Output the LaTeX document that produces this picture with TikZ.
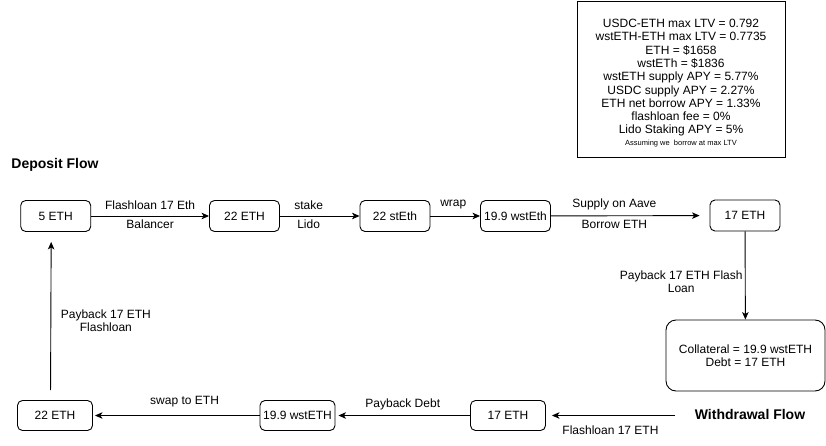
\documentclass[tikz,border=0pt]{standalone}
\usepackage{fontspec}
\setmainfont{Liberation Sans}
\usetikzlibrary{arrows.meta,positioning}
\tikzset{
  flowbox/.style={draw, rounded corners=5pt, minimum width=70pt, minimum height=31pt, inner sep=1pt, line width=0.9pt},
  widebox/.style={flowbox, minimum width=75pt, minimum height=30pt},
  edgelbl/.style={inner sep=0pt, align=center},
  flowtitle/.style={font=\fontsize{14}{16}\selectfont\bfseries},
  flowarrow/.style={-{Stealth[length=7.5pt,width=6.5pt,inset=2pt]}, line width=0.9pt}
}

\begin{document}
\begin{tikzpicture}[x=1pt,y=-1pt,font=\fontsize{12}{13.3}\selectfont]
        \useasboundingbox (0,0) rectangle (826,446);
        % parameters box
        \node[draw, line width=0.9pt, minimum width=208pt, minimum height=156pt] (params) at (681,79) {};
        \node[align=center, inner sep=0pt] (paramtext) at (681,83)
            {USDC-ETH max LTV = 0.792\\
             wstETH-ETH max LTV = 0.7735\\
             ETH = \$1658\\
             wstETh = \$1836\\
             wstETH supply APY = 5.77\%\\
             USDC supply APY = 2.27\%\\
             ETH net borrow APY = 1.33\%\\
             flashloan fee = 0\%\\
             Lido Staking APY = 5\%\\[-2pt]
             {\fontsize{7.5}{9}\selectfont Assuming we\ \ borrow at max LTV}};
        % deposit flow
        \node[flowtitle] (depositlbl) at (55,165) {Deposit Flow};
        \node[flowbox] (eth5) at (55.7,216) {5 ETH};
        \node[flowbox] (eth22) at (244.5,216) {22 ETH};
        \node[flowbox] (steth) at (395,216) {22 stEth};
        \node[flowbox] (wsteth) at (515.5,216) {19.9 wstEth};
        \node[flowbox] (eth17) at (745,215.5) {17 ETH};
        \node[flowbox, minimum width=159pt, minimum height=71pt, rounded corners=10pt, align=center] (position) at (745.5,355.5)
            {Collateral = 19.9 wstETH\\Debt = 17 ETH};
        \draw[flowarrow] (eth5) -- node[edgelbl, yshift=11pt] (flashlbl) {Flashloan 17 Eth}
            node[edgelbl, yshift=-8pt] (balancerlbl) {Balancer} (eth22);
        \draw[flowarrow] (eth22) -- node[edgelbl, pos=0.36, yshift=11pt] (stakelbl) {stake}
            node[edgelbl, pos=0.36, yshift=-8pt] (lidolbl) {Lido} (steth);
        \draw[flowarrow] (steth) -- node[edgelbl, pos=0.46, yshift=11pt] (wraplbl) {wrap} (wsteth);
        \draw[flowarrow, shorten >=10pt] (wsteth) -- node[edgelbl, pos=0.4, yshift=11pt] (supplylbl) {Supply on Aave}
            node[edgelbl, pos=0.4, yshift=-9pt] (borrowlbl) {Borrow ETH} (eth17);
        \draw[flowarrow] (eth17) -- node[edgelbl, xshift=-64pt, yshift=-6pt] (repaylbl) {Payback 17 ETH Flash\\Loan} (position);
        % withdrawal flow
        \node[flowtitle] (withdrawlbl) at (750,414) {Withdrawal Flow};
        \node[widebox] (outeth17) at (508,415.5) {17 ETH};
        \node[widebox] (outwsteth) at (297.5,415.5) {19.9 wstETH};
        \node[widebox] (outeth22) at (55,415.5) {22 ETH};
        \coordinate (wstart) at (675,415.5);
        \draw[flowarrow, shorten >=6pt] (wstart) -- node[edgelbl, yshift=-15pt] (wflashlbl) {Flashloan 17 ETH} (outeth17);
        \draw[flowarrow, shorten >=3pt] (outeth17) -- node[edgelbl, pos=0.5, yshift=11pt] (debtlbl) {Payback Debt} (outwsteth);
        \draw[flowarrow, shorten >=2pt] (outwsteth) -- node[edgelbl, pos=0.45, yshift=14pt] (swaplbl) {swap to ETH} (outeth22);
        \draw[flowarrow, shorten <=10pt, shorten >=10pt] ([xshift=-4.5pt]outeth22.north) --
            node[edgelbl, xshift=55pt, yshift=-4.5pt] (loanbacklbl) {Payback 17 ETH\\Flashloan} ([xshift=-4.5pt]eth5.south);
    \end{tikzpicture}
\end{document}
